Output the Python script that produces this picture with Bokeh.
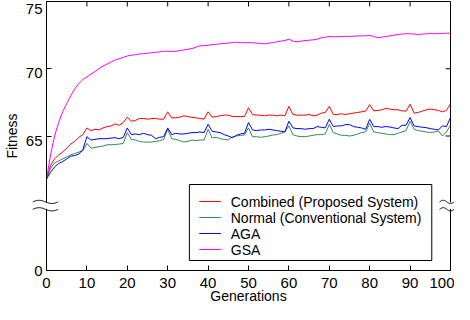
from bokeh.plotting import figure
from bokeh.models import LinearAxis, FixedTicker, Range1d, CustomLabelingPolicy
from bokeh.core.properties import value
from bokeh.embed import file_html
from bokeh.resources import INLINE
import numpy as np

generations = list(range(0, 101))

combined = [61.8, 62.8, 63.3, 63.6, 63.8, 64.1, 64.4, 64.6, 64.9, 65.1,
            65.6, 65.4, 65.5, 65.45, 65.6, 65.7, 65.75, 65.9, 65.8, 66.0,
            66.4, 66.1, 66.15, 66.3, 66.3, 66.25, 66.3, 66.3, 66.25, 66.25,
            66.8, 66.35, 66.35, 66.4, 66.5, 66.45, 66.38, 66.35, 66.3, 66.25,
            66.8, 66.4, 66.45, 66.5, 66.55, 66.55, 66.45, 66.45, 66.45, 66.45,
            67.1, 66.6, 66.55, 66.55, 66.5, 66.55, 66.55, 66.5, 66.55, 66.5,
            67.2, 66.6, 66.55, 66.55, 66.55, 66.6, 66.5, 66.55, 66.7, 66.75,
            67.2, 66.6, 66.6, 66.65, 66.6, 66.65, 66.7, 66.75, 66.8, 66.85,
            67.33, 66.87, 66.9, 66.95, 67.05, 67.0, 66.95, 66.95, 66.87, 66.85,
            67.36, 66.7, 66.75, 66.85, 66.95, 67.0, 66.95, 66.9, 66.8, 66.9,
            67.4]

normal = [61.8, 62.6, 63.0, 63.15, 63.3, 63.45, 63.6, 63.7, 63.8, 63.9,
          64.45, 64.1, 64.15, 64.2, 64.25, 64.35, 64.35, 64.37, 64.4, 64.45,
          65.25, 64.75, 64.7, 64.6, 64.55, 64.55, 64.55, 64.6, 64.65, 64.75,
          65.5, 64.8, 64.75, 64.65, 64.55, 64.6, 64.7, 64.65, 64.7, 64.7,
          65.5, 64.87, 64.9, 64.8, 64.75, 64.7, 64.93, 65.0, 65.05, 65.07,
          65.6, 64.95, 64.95, 64.9, 64.95, 65.0, 65.07, 65.1, 65.2, 65.3,
          65.75, 65.1, 65.0, 64.95, 64.95, 65.0, 65.05, 65.1, 65.1, 65.15,
          65.87, 65.25, 65.15, 65.05, 65.05, 65.0, 65.05, 65.15, 65.25, 65.3,
          65.95, 65.3, 65.25, 65.2, 65.15, 65.1, 65.1, 65.2, 65.3, 65.4,
          66.1, 65.5, 65.4, 65.35, 65.3, 65.25, 65.3, 65.37, 65.0, 65.3,
          65.8]

aga = [61.8, 62.3, 62.7, 62.95, 63.1, 63.3, 63.5, 63.55, 63.65, 64.0,
       64.95, 64.7, 64.75, 64.8, 64.8, 64.8, 64.85, 64.87, 64.8, 64.9,
       65.6, 65.1, 65.15, 65.1, 65.2, 65.1, 65.05, 64.8, 64.9, 64.95,
       65.6, 65.1, 65.2, 65.15, 65.15, 65.2, 65.25, 65.25, 65.3, 65.25,
       65.87, 65.35, 65.3, 65.25, 65.1, 65.0, 64.87, 65.05, 65.15, 65.2,
       66.0, 65.45, 65.4, 65.45, 65.45, 65.5, 65.45, 65.4, 65.35, 65.3,
       66.1, 65.6, 65.55, 65.55, 65.5, 65.55, 65.55, 65.7, 65.65, 65.6,
       66.25, 65.7, 65.75, 65.75, 65.85, 65.85, 65.7, 65.65, 65.6, 65.5,
       66.24, 65.7, 65.7, 65.65, 65.7, 65.67, 65.6, 65.55, 65.8, 65.8,
       66.37, 65.75, 65.7, 65.65, 65.62, 65.55, 65.5, 65.45, 65.75, 65.7,
       66.37]

gsa = [61.8, 63.6, 65.0, 66.0, 66.8, 67.4, 68.0, 68.5, 68.9, 69.2,
       69.4, 69.6, 69.8, 70.0, 70.2, 70.35, 70.5, 70.65, 70.75, 70.85,
       70.95, 71.0, 71.05, 71.1, 71.12, 71.15, 71.2, 71.22, 71.25, 71.3,
       71.3, 71.28, 71.3, 71.35, 71.4, 71.45, 71.5, 71.6, 71.7, 71.72,
       71.75, 71.8, 71.82, 71.85, 71.88, 71.9, 71.95, 71.97, 71.95, 71.93,
       71.95, 71.93, 71.9, 71.88, 71.85, 71.9, 71.95, 72.0, 72.05, 72.1,
       72.2, 72.05, 72.0, 72.05, 72.1, 72.12, 72.15, 72.2, 72.3, 72.35,
       72.4, 72.38, 72.38, 72.4, 72.42, 72.4, 72.42, 72.44, 72.45, 72.45,
       72.47, 72.4, 72.3, 72.35, 72.4, 72.45, 72.5, 72.55, 72.58, 72.6,
       72.6, 72.58, 72.55, 72.57, 72.6, 72.62, 72.6, 72.62, 72.63, 72.64,
       72.65]

series_names = ["Combined (Proposed System)", "Normal (Conventional System)", "AGA", "GSA"]
series_colors = ["#ff0000", "#2e8b57", "#0000ff", "#ff00ff"]

x_ticks = [0, 10, 20, 30, 40, 50, 60, 70, 80, 90, 100]
# broken y axis: the value 0 is drawn at position 55, the break sits at 60
zero_pos = 55
break_pos = 60
y_ticks = [zero_pos, 65, 70, 75]
y_tick_text = ["0", "65", "70", "75"]

FONT = "Liberation Sans"
FRAME_W, FRAME_H = 410, 269
X0, X1, Y0, Y1 = 0, 100, zero_pos, 75
px_x = FRAME_W / (X1 - X0)
px_y = FRAME_H / (Y1 - Y0)
TICK = 5

p = figure(width=454, height=304, x_range=Range1d(X0, X1), y_range=Range1d(Y0, Y1),
           output_backend="svg", toolbar_location=None,
           min_border_left=40, min_border_right=4, min_border_top=1, min_border_bottom=34)
p.grid.visible = False
p.outline_line_color = "black"
p.outline_line_width = 1
p.background_fill_color = "white"
p.border_fill_color = "white"

hide_all = CustomLabelingPolicy(code="""
    for (const i of indices)
        indices.unset(i)
    return indices
""")


def style_axis(ax, ticks):
    ax.ticker = FixedTicker(ticks=ticks)
    ax.axis_line_color = "black"
    ax.major_tick_line_color = "black"
    ax.major_tick_in = TICK
    ax.major_tick_out = 0
    ax.minor_tick_in = 0
    ax.minor_tick_out = 0
    ax.minor_tick_line_color = None
    ax.major_label_text_font = FONT
    ax.major_label_text_color = "black"
    ax.major_label_text_font_size = "15px"


style_axis(p.xaxis[0], x_ticks)
p.xaxis[0].major_label_standoff = 7

# left axis: ticks only
style_axis(p.yaxis[0], y_ticks)
p.yaxis[0].major_label_text_font_size = "0px"
p.yaxis[0].major_label_standoff = 0
p.yaxis[0].major_label_policy = hide_all

# left labels drawn just below each tick (top-aligned), as in the reference
shift = [0, 4.5 / px_y, 4.5 / px_y, 7.5 / px_y]
label_pos = [v - s for v, s in zip(y_ticks, shift)]
ylab = LinearAxis(ticker=FixedTicker(ticks=label_pos),
                  major_label_overrides={pos: txt for pos, txt in zip(label_pos, y_tick_text)},
                  axis_line_color=None, major_tick_line_color=None, minor_tick_line_color=None,
                  major_tick_in=0, major_tick_out=0, minor_tick_in=0, minor_tick_out=0,
                  major_label_standoff=4, major_label_text_font=FONT,
                  major_label_text_font_size="15px", major_label_text_color="black",
                  axis_label="Fitness", axis_label_standoff=3, axis_label_text_font=FONT,
                  axis_label_text_font_style="normal", axis_label_text_font_size="14px",
                  axis_label_text_color="black")
p.add_layout(ylab, "left")

# data lines
for vals, col in zip([combined, normal, aga, gsa], series_colors):
    p.line(generations, vals, line_color=col, line_width=1)

# mirrored inward ticks on top and right edges of the frame
top_x = x_ticks[1:-1]
p.segment(x0=top_x, y0=[Y1] * len(top_x), x1=top_x, y1=[Y1 - TICK / px_y] * len(top_x),
          line_color="black", line_width=1)
right_y = y_ticks[1:-1]
p.segment(x0=[X1] * len(right_y), y0=right_y, x1=[X1 - TICK / px_x] * len(right_y), y1=right_y,
          line_color="black", line_width=1)

# legend box (pixel layout measured from the frame's bottom-left corner), drawn above the data
LEG_L, LEG_W, LEG_B, LEG_H = 145, 246, 10, 76
ROW0, ROW_H = 69, 16          # first row centre above frame bottom, row pitch
SAMPLE_L, SAMPLE_W, TEXT_L = 10, 22, 42
p.quad(left=[X0 + LEG_L / px_x], right=[X0 + (LEG_L + LEG_W) / px_x],
       bottom=[Y0 + LEG_B / px_y], top=[Y0 + (LEG_B + LEG_H) / px_y],
       fill_color="white", line_color="black", line_width=1)
row_y = [Y0 + (ROW0 - i * ROW_H) / px_y for i in range(len(series_names))]
sample_x = [X0 + (LEG_L + SAMPLE_L) / px_x, X0 + (LEG_L + SAMPLE_L + SAMPLE_W) / px_x]
p.multi_line(xs=[sample_x] * len(row_y), ys=[[yc, yc] for yc in row_y],
             line_color=series_colors, line_width=1)
p.text(x=[X0 + (LEG_L + TEXT_L) / px_x] * len(series_names), y=row_y, text=series_names,
       text_font=value(FONT), text_font_size="14px", text_color="black",
       text_align="left", text_baseline="middle")

# x axis title, below the tick labels
p.text(x=[(X0 + X1) / 2], y=[Y0 - 25.5 / px_y], text=["Generations"],
       text_font=value(FONT), text_font_size="14px", text_color="black",
       text_align="center", text_baseline="middle", level="overlay")

# axis break marks (left and right edges)
t = np.linspace(0, 1, 40)
wave = 0.12 * np.sin(2 * np.pi * t)
gap_lo, gap_hi = break_pos - 0.42, break_pos + 0.06
for x0, x1, xc in [(-3.4, 2.9, X0), (97.3, 100.9, X1)]:
    p.quad(left=xc - 0.45, right=xc + 0.45, bottom=gap_lo, top=gap_hi,
           fill_color="white", line_color=None, level="overlay")
    xs = x0 + (x1 - x0) * t
    for yc in (break_pos + 0.1, break_pos - 0.45):
        p.line(xs, yc + wave, line_color="black", line_width=1, level="overlay")

open("out.html", "w").write(file_html(p, INLINE))
